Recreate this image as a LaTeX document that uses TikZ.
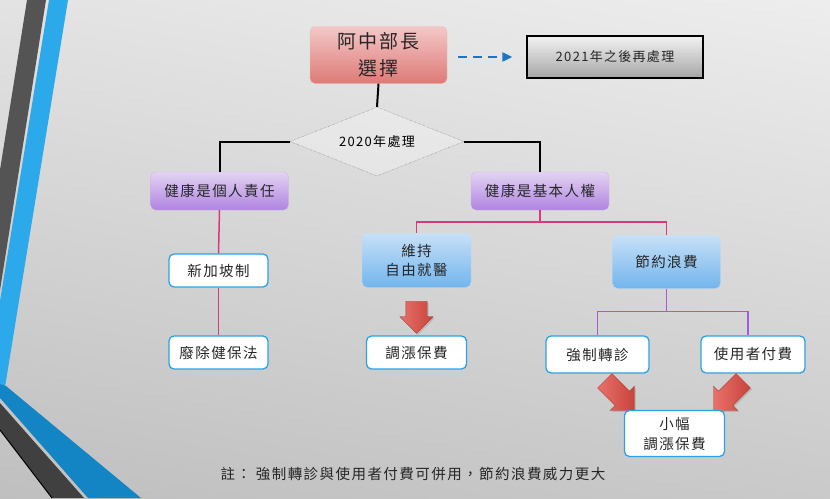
\documentclass[tikz,border=0pt]{standalone}
\usepackage{fontspec}
\setmainfont[LetterSpace=10]{Noto Sans CJK TC}
\usetikzlibrary{positioning}
\usetikzlibrary{arrows.meta}
\usetikzlibrary{shapes.geometric}
\usetikzlibrary{shapes.arrows}
\usetikzlibrary{shadows}
\usetikzlibrary{shadings}
\definecolor{stripegray}{HTML}{545454}
\definecolor{stripeblue}{HTML}{2CA9EA}
\definecolor{bandblue}{HTML}{1485C4}
\definecolor{banddark}{HTML}{404040}
\definecolor{redtop}{HTML}{F3C8C8}
\definecolor{redbot}{HTML}{DE7A76}
\definecolor{purpletop}{HTML}{E3D3F3}
\definecolor{purplebot}{HTML}{B084E0}
\definecolor{bluetop}{HTML}{C6E0F7}
\definecolor{bluebot}{HTML}{72B5ED}
\definecolor{cyanbd}{HTML}{2AA3E6}
\definecolor{pinkline}{HTML}{D8387C}
\definecolor{violetline}{HTML}{A55BD6}
\definecolor{arrowtop}{HTML}{E8716A}
\definecolor{arrowbot}{HTML}{C8443C}
\definecolor{dashblue}{HTML}{1A75C2}
\tikzset{
    box/.style={rounded corners=5pt, inner sep=0pt, align=center, text=black!85,
        font=\fontsize{14.5}{20}\selectfont},
    whitebox/.style={box, draw=cyanbd, line width=1.3pt, fill=white},
    purplebox/.style={box, draw=purplebot!60, top color=purpletop, bottom color=purplebot},
    bluebox/.style={box, draw=bluetop, top color=bluetop, bottom color=bluebot},
    redarrow/.style={single arrow, inner xsep=0pt, inner ysep=10pt,
        single arrow head extend=7pt, left color=arrowtop, right color=arrowbot,
        draw=arrowbot!85!black, line width=0.3pt,
        drop shadow={opacity=0.3, shadow xshift=1.5pt, shadow yshift=-1.5pt}},
    blackline/.style={black, line width=2pt},
    pinklink/.style={pinkline, line width=1.5pt},
    violetlink/.style={violetline, line width=1.5pt},
}

\begin{document}
\begin{tikzpicture}[x=1pt, y=-1pt]
    \useasboundingbox (0,0) rectangle (830,498);
    \shade[upper left=black!11, upper right=black!7, lower left=black!25, lower right=black!21]
        (0,0) rectangle (830,498);
    \fill[stripegray] (27,0) -- (46,0) -- (0,290) -- (0,170) -- cycle;
    \fill[stripeblue] (49,0) -- (68,0) -- (5,387) -- (0,387) -- (0,301) -- cycle;
    \fill[bandblue] (0,384) -- (6,386) -- (141,498) -- (88,498) -- (0,398) -- cycle;
    \fill[banddark] (0,403) -- (84,498) -- (52,498) -- (0,430) -- cycle;
    \draw[black, line width=1pt] (0,430) -- (52,498);

    \node[box, minimum width=137pt, minimum height=57pt, draw=redbot!50,
        top color=redtop, bottom color=redbot,
        font=\fontsize{19}{27}\selectfont] (minister) at (378.5,55) {阿中部長\\選擇};
    \node[box, rounded corners=0pt, minimum width=176pt, minimum height=42pt,
        draw=black, line width=1.3pt, top color=black!5, bottom color=black!35,
        font=\fontsize{13}{16}\selectfont] (later) at (615,57) {2021年之後再處理};
    \draw[dashblue, line width=2pt, dash pattern=on 9pt off 6pt,
        -{Triangle[length=10pt, width=9pt]}, shorten <=11pt, shorten >=14pt]
        (later.west -| minister.east) -- (later.west);

    \node[diamond, draw=black!60, densely dotted, fill=white, fill opacity=0.3,
        text opacity=1, aspect=2.5, inner sep=0pt, minimum width=174pt,
        minimum height=69pt, font=\fontsize{13}{16}\selectfont] (year) at (377,141.5) {2020年處理};
    \draw[blackline] (minister.south) -- (year.north);

    \node[purplebox, minimum width=138pt, minimum height=38pt] (personal) at (219.5,191) {健康是個人責任};
    \node[purplebox, minimum width=138pt, minimum height=38pt] (humanright) at (540,191) {健康是基本人權};
    \draw[blackline] (year.west) -| (personal.north);
    \draw[blackline] (year.east) -| (humanright.north);

    \node[whitebox, minimum width=99pt, minimum height=33pt] (singapore) at (218.5,270.5) {新加坡制};
    \node[whitebox, minimum width=99pt, minimum height=33pt] (abolish) at (218.5,352.5) {廢除健保法};
    \draw[pinklink] (personal.south) -- (singapore.north);
    \draw[pinklink] (singapore.south) -- (abolish.north);

    \node[bluebox, minimum width=109pt, minimum height=54pt] (freedom) at (416.5,260.5) {維持\\自由就醫};
    \node[bluebox, minimum width=108pt, minimum height=53pt] (saving) at (666.5,262) {節約浪費};
    \draw[pinklink] (humanright.south) -- ++(0,12) coordinate (hrjoin) -| (freedom.north);
    \draw[pinklink] (hrjoin) -| (saving.north);

    \node[redarrow, inner ysep=10.5pt, single arrow head extend=6pt, minimum height=32pt,
        rotate=-90] (downarrow) at (416.5,312) {};
    \node[whitebox, minimum width=100pt, minimum height=33pt] (raise) at (416.5,352.5) {調漲保費};

    \node[whitebox, minimum width=103pt, minimum height=37pt] (referral) at (597.5,354.5) {強制轉診};
    \node[whitebox, minimum width=104pt, minimum height=37pt] (userpay) at (753,354.5) {使用者付費};
    \draw[violetlink] (saving.south) -- ++(0,23) coordinate (svjoin) -| (referral.north);
    \draw[violetlink] (svjoin) -| ([xshift=-5pt]userpay.north);

    \node[redarrow, minimum height=42pt, rotate=-45] (leftarrow) at (616,392) {};
    \node[redarrow, minimum height=42pt, rotate=-135] (rightarrow) at (732,392) {};
    \node[whitebox, minimum width=100pt, minimum height=46pt] (smallraise) at (674.5,433.5) {小幅\\調漲保費};

    \node[text=black!85, font=\fontsize{14.5}{16}\selectfont] (note) at (413,474)
        {註： 強制轉診與使用者付費可併用，節約浪費威力更大};
\end{tikzpicture}
\end{document}
